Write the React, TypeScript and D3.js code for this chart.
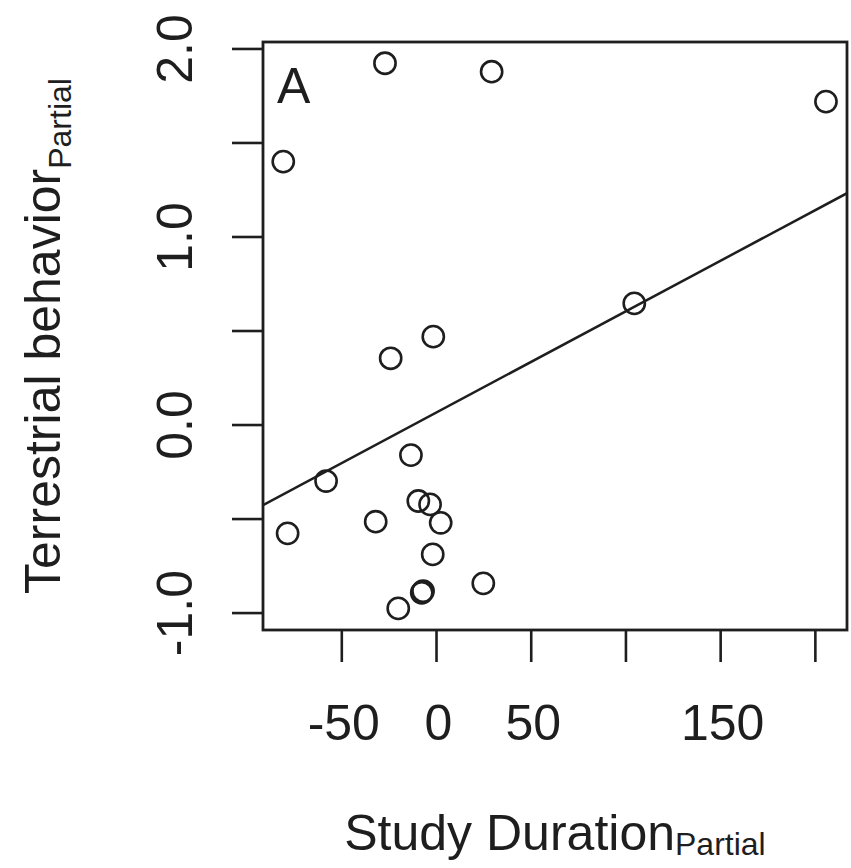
import React from 'react';
import * as d3 from 'd3';

const studyDuration = [-27.2, 29.1, -80.9, 205.6, 104.4, -1.7, -24.2, -13.5, -58.3, -78.6, -32.1, -9.6, -3.4, 2.2, -2.0, 24.7, -7.8, -7.1, -20.2];
const terrestrial = [1.924, 1.879, 1.401, 1.72, 0.647, 0.47, 0.355, -0.16, -0.298, -0.576, -0.514, -0.404, -0.422, -0.52, -0.688, -0.842, -0.892, -0.883, -0.975];

const xTicks = [-50, 0, 50, 100, 150, 200];
const xTickLabels = ['-50', '0', '50', '', '150', ''];
const yTicks = [-1, -0.5, 0, 0.5, 1, 1.5, 2];
const yTickLabels = ['-1.0', '', '0.0', '', '1.0', '', '2.0'];

const xDomain = [-91.6, 216.7];
const yDomain = [-1.09, 2.037];
const fitIntercept = 0.067;
const fitSlope = 0.00538;

const panelLabel = 'A';
const xTitle = 'Study Duration';
const yTitle = 'Terrestrial behavior';
const subTitle = 'Partial';

export default function App() {
  const W = 851, H = 868;
  const left = 263, right = 847, top = 42, bottom = 630;
  const x = d3.scaleLinear().domain(xDomain).range([left, right]);
  const y = d3.scaleLinear().domain(yDomain).range([bottom, top]);
  const ink = '#1e1e1e';
  const font = '"Liberation Sans", Arial, sans-serif';
  const pts = studyDuration.map((v, i) => [v, terrestrial[i]]);
  const line = d3.line<number>().x(v => x(v)).y(v => y(fitIntercept + fitSlope * v));

  return (
    <svg width={W} height={H} style={{ position: 'absolute', left: 0, top: 0, background: '#fff' }} fontFamily={font}>
      <rect x={0} y={0} width={W} height={H} fill="#fff" />
      <defs>
        <clipPath id="plotclip">
          <rect x={left} y={top} width={right - left} height={bottom - top} />
        </clipPath>
      </defs>
      <path d={line(xDomain) || ''} stroke={ink} strokeWidth={2.5} fill="none" clipPath="url(#plotclip)" />
      {pts.map((p, i) => (
        <circle key={i} cx={x(p[0])} cy={y(p[1])} r={10.6} fill="none" stroke={ink} strokeWidth={2.6} />
      ))}
      <rect x={left} y={top} width={right - left} height={bottom - top} fill="none" stroke={ink} strokeWidth={2.8} />
      {xTicks.map((t, i) => (
        <g key={'xt' + i}>
          <line x1={x(t)} x2={x(t)} y1={bottom} y2={bottom + 32} stroke={ink} strokeWidth={2.6} />
          {xTickLabels[i] && (
            <text x={x(t) + 2} y={740} textAnchor="middle" fontSize={50} fill={ink}>{xTickLabels[i]}</text>
          )}
        </g>
      ))}
      {yTicks.map((t, i) => (
        <g key={'yt' + i}>
          <line x1={left - 31} x2={left} y1={y(t)} y2={y(t)} stroke={ink} strokeWidth={2.6} />
          {yTickLabels[i] && (
            <text transform={`translate(192,${y(t)}) rotate(-90)`} textAnchor="middle" fontSize={50} fill={ink}>{yTickLabels[i]}</text>
          )}
        </g>
      ))}
      <text x={277} y={103} fontSize={50} fill={ink}>{panelLabel}</text>
      <text x={(left + right) / 2} y={850} textAnchor="middle" fontSize={50} fill={ink}>
        {xTitle}
        <tspan fontSize={32} dy={5}>{subTitle}</tspan>
      </text>
      <text transform={`translate(60,${(top + bottom) / 2}) rotate(-90)`} textAnchor="middle" fontSize={50} fill={ink}>
        {yTitle}
        <tspan fontSize={32} dy={11}>{subTitle}</tspan>
      </text>
    </svg>
  );
}
